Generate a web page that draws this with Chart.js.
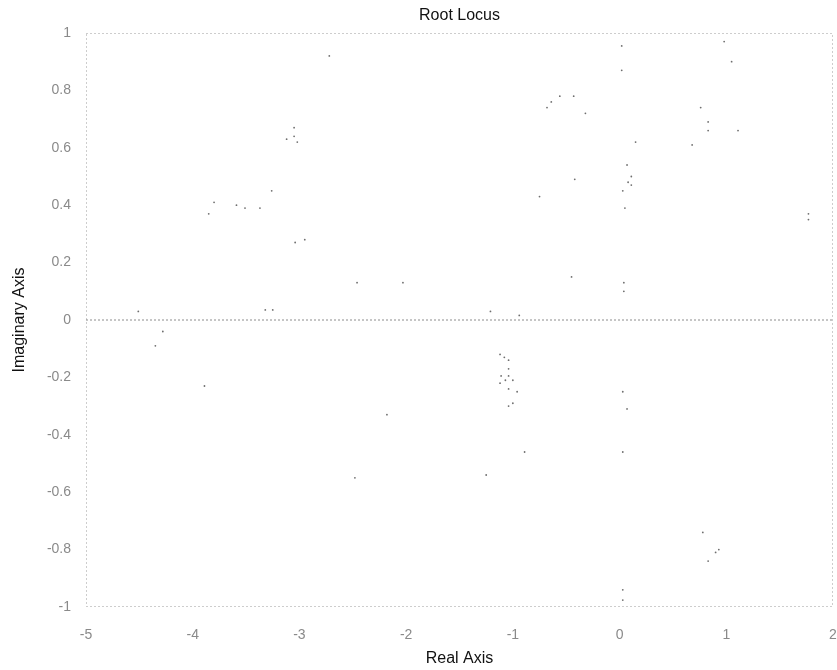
<!DOCTYPE html>
<html>
<head>
<meta charset="utf-8">
<script src="https://cdn.jsdelivr.net/npm/chart.js@4/dist/chart.umd.min.js"></script>
<style>
  html, body { margin: 0; padding: 0; background: #fff; }
  #wrap { width: 837px; height: 670px; }
</style>
</head>
<body>
<div id="wrap"><canvas id="locus" width="837" height="670"></canvas></div>
<script>
// === Data ===
// root locus branch lying on the real axis
const axisRe = [-5, 2];
const axisIm = [0, 0];

// faint scattered locus points (real part, imaginary part)
const dotsRe = [
  -3.05, -3.05, -3.12, -3.02, -2.72, -3.26,
  -3.80, -3.85, -3.59, -3.51, -3.37, -3.04, -2.95, -2.46, -2.03,
  -4.51, -3.32, -3.25, -4.28, -4.35, -3.89, -2.18, -2.48,
  0.02, 0.02, 1.05, 0.98, -0.56, -0.43, -0.64, -0.68, -0.32,
  0.76, 0.83, 0.83, 1.11, 0.68, 0.15, 0.07, 0.11, 0.08, 0.11, 0.03,
  -0.42, -0.75, 0.05, 1.77, 1.77, -0.45, 0.04, 0.04, -1.21, -0.94,
  -1.12, -1.08, -1.04, -1.04, -1.11, -1.04, -1.07, -1.00, -1.12, -1.04,
  -0.96, -1.00, -1.04, 0.03, 0.07,
  -0.89, -1.25, 0.03, 0.78, 0.93, 0.90, 0.83, 0.03, 0.03
];
const dotsIm = [
  0.67, 0.64, 0.63, 0.62, 0.92, 0.45,
  0.41, 0.37, 0.40, 0.39, 0.39, 0.27, 0.28, 0.13, 0.13,
  0.03, 0.035, 0.035, -0.04, -0.09, -0.23, -0.33, -0.55,
  0.955, 0.87, 0.90, 0.97, 0.78, 0.78, 0.76, 0.74, 0.72,
  0.74, 0.69, 0.66, 0.66, 0.61, 0.62, 0.54, 0.50, 0.48, 0.47, 0.45,
  0.49, 0.43, 0.39, 0.37, 0.35, 0.15, 0.13, 0.10, 0.03, 0.016,
  -0.12, -0.13, -0.14, -0.17, -0.195, -0.195, -0.21, -0.21, -0.22, -0.24,
  -0.25, -0.29, -0.30, -0.25, -0.31,
  -0.46, -0.54, -0.46, -0.74, -0.80, -0.81, -0.84, -0.94, -0.976
];

const reRange = [-5, 2];
const imRange = [-1, 1];

// === Helpers ===
function toPoints(xs, ys) {
  return xs.map((x, i) => ({ x: x, y: ys[i] }));
}

// dotted box round the plot area
const framePlugin = {
  id: 'frame',
  beforeDatasetsDraw(chart) {
    const { ctx, chartArea: a } = chart;
    ctx.save();
    ctx.strokeStyle = '#9a9a9a';
    ctx.lineWidth = 1;
    ctx.setLineDash([1, 3]);
    ctx.strokeRect(a.left + 0.5, a.top + 0.5, a.width - 1, a.height - 1);
    ctx.restore();
  }
};

const tickFont = { family: 'Liberation Sans, Arial, sans-serif', size: 14 };
const labelFont = { family: 'Liberation Sans, Arial, sans-serif', size: 16 };

// === Chart ===
new Chart(document.getElementById('locus'), {
  type: 'scatter',
  data: {
    datasets: [
      {
        label: 'real axis',
        data: toPoints(axisRe, axisIm),
        showLine: true,
        borderColor: '#8c8c8c',
        borderWidth: 1,
        borderDash: [2, 2],
        pointRadius: 0
      },
      {
        label: 'locus',
        data: toPoints(dotsRe, dotsIm),
        backgroundColor: '#6e6e6e',
        borderWidth: 0,
        pointRadius: 0.9
      }
    ]
  },
  options: {
    responsive: false,
    animation: false,
    layout: { padding: 0 },
    plugins: {
      legend: { display: false },
      tooltip: { enabled: false }
    },
    scales: {
      // top axis only carries the chart title, centred over the plot
      top: {
        type: 'linear',
        position: 'top',
        min: reRange[0],
        max: reRange[1],
        grid: { display: false },
        border: { display: false },
        ticks: { display: false },
        title: {
          display: true,
          text: 'Root Locus',
          color: '#111',
          font: labelFont,
          padding: { top: 6, bottom: 0 }
        },
        afterFit(scale) {
          scale.height = 33;
          scale.paddingRight = 4;
          scale.paddingLeft = 0;
        }
      },
      x: {
        type: 'linear',
        min: reRange[0],
        max: reRange[1],
        grid: { display: false },
        border: { display: false },
        ticks: {
          stepSize: 1,
          color: '#8a8a8a',
          font: tickFont,
          padding: 12,
          maxRotation: 0
        },
        title: {
          display: true,
          text: 'Real Axis',
          color: '#111',
          font: labelFont,
          padding: { top: 0, bottom: 2 }
        },
        afterFit(scale) {
          scale.height = 63;
          scale.paddingRight = 4;
          scale.paddingLeft = 0;
        }
      },
      y: {
        type: 'linear',
        min: imRange[0],
        max: imRange[1],
        grid: { display: false },
        border: { display: false },
        ticks: {
          stepSize: 0.2,
          color: '#8a8a8a',
          font: tickFont,
          padding: 7,
          callback: (v) => String(Number(v.toFixed(1)))
        },
        title: {
          display: true,
          text: 'Imaginary Axis',
          color: '#111',
          font: labelFont,
          padding: { top: 10, bottom: 0 }
        },
        afterFit(scale) {
          scale.width = 86;
          scale.paddingTop = 0;
          scale.paddingBottom = 0;
        }
      }
    }
  },
  plugins: [framePlugin]
});
</script>
</body>
</html>
